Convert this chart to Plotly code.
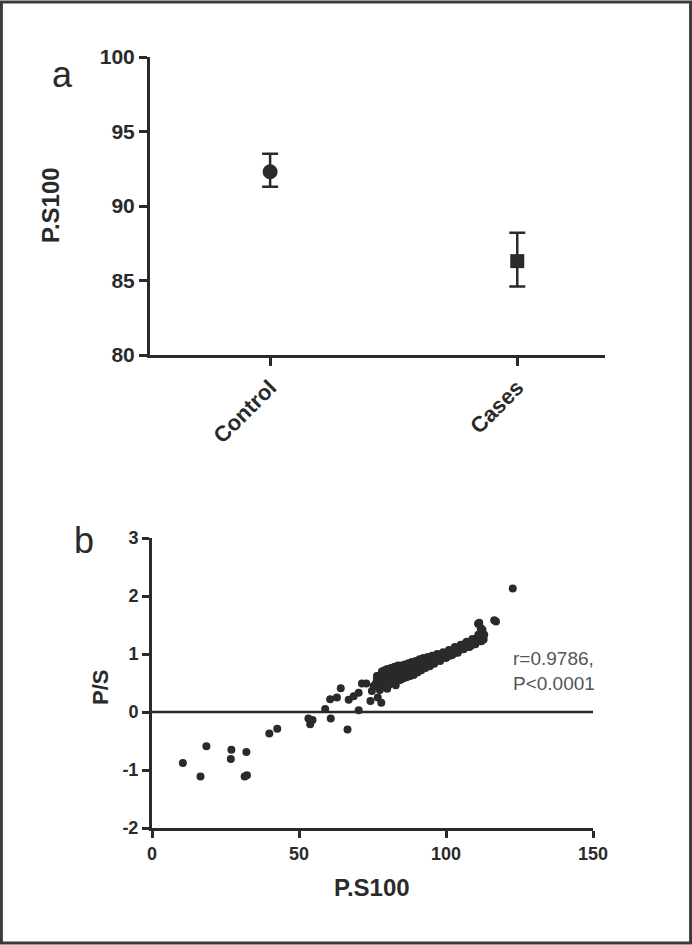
import plotly.graph_objects as go

# ---- Panel a data ----
groups = ["Control", "Cases"]
group_pos = [0, 1]
means = [92.3, 86.3]
err_plus = [1.2, 1.9]
err_minus = [1.0, 1.7]

# ---- Panel b data ----
ps100 = [10.5, 16.5, 18.5, 27.0, 26.8, 32.1, 31.5, 32.3, 39.9, 42.6,
         53.2, 53.8, 54.6, 58.9, 60.8, 60.6, 62.9, 64.2, 66.5, 66.9,
         68.6, 70.3, 70.3, 71.4, 72.9, 74.3, 74.8, 76.5, 76.8, 78.0, 75.4,
         79.4, 82.9, 80.0, 89.1, 92.5, 83.9, 87.9, 91.9,
         76.2, 76.5, 76.8, 77.0, 77.3, 77.6, 77.9, 78.1, 78.4, 78.7,
         79.0, 79.3, 79.6, 79.9, 80.2, 80.5, 80.8, 81.1, 81.4, 81.7,
         82.0, 82.3, 82.6, 82.9, 83.2, 83.5, 83.8, 84.1, 84.4, 84.7,
         85.0, 85.3, 85.6, 85.9, 86.2, 86.5, 86.8, 87.1, 87.4, 87.7,
         88.0, 88.3, 88.6, 88.9, 89.2, 89.5, 89.8, 90.1, 90.4, 90.7,
         91.0, 91.3, 91.6, 91.9, 92.2, 92.5, 92.8, 93.1, 93.4, 93.7,
         94.0, 94.3, 94.6, 94.9, 95.2, 95.5, 95.8, 96.1, 96.4, 96.7,
         97.0, 97.3, 97.6, 97.9, 98.2, 98.5, 98.8, 99.1, 99.4, 99.7,
         100.0, 100.3, 100.6, 100.9, 101.2, 101.5, 101.8, 102.1, 102.4, 102.7,
         103.0, 103.3, 103.6, 103.9, 104.2, 104.5, 104.8, 105.1, 105.4, 105.7,
         106.0, 106.3, 106.6, 106.9, 107.2, 107.5, 107.8, 108.1, 108.4, 108.7,
         109.0, 109.3, 109.6, 110.0, 110.4, 110.8, 111.2, 111.6, 112.0, 112.4,
         112.8, 113.0,
         77.5, 78.2, 79.1, 80.0, 80.6, 81.3, 81.9, 82.5, 83.0, 83.7,
         84.3, 84.9, 85.5, 86.0, 86.6, 87.2, 87.8, 88.4, 89.0, 89.7,
         90.3, 91.0, 91.6, 92.3, 93.0, 93.8, 94.5, 95.3, 96.0, 97.0,
         98.0, 99.0, 100.0, 101.0, 102.0, 103.0, 104.0, 105.0, 106.0, 107.0,
         108.0, 109.0, 110.0, 111.0, 112.0,
         111.8, 110.9, 111.8, 111.3, 116.4, 117.0, 112.4, 122.7]
ps_ratio = [-0.88, -1.11, -0.59, -0.65, -0.81, -0.69, -1.11, -1.09, -0.37, -0.29,
            -0.11, -0.21, -0.14, 0.05, -0.11, 0.22, 0.25, 0.41, -0.30, 0.21,
            0.27, 0.33, 0.03, 0.49, 0.49, 0.19, 0.36, 0.62, 0.25, 0.16, 0.45,
            0.47, 0.46, 0.40, 0.67, 0.78, 0.76, 0.79, 0.90,
            0.50, 0.58, 0.44, 0.62, 0.52, 0.47, 0.56, 0.64, 0.50, 0.58,
            0.45, 0.61, 0.55, 0.66, 0.52, 0.60, 0.57, 0.68, 0.55, 0.63,
            0.60, 0.70, 0.58, 0.66, 0.62, 0.73, 0.60, 0.68, 0.65, 0.56,
            0.70, 0.66, 0.74, 0.69, 0.63, 0.72, 0.70, 0.77, 0.71, 0.66,
            0.75, 0.73, 0.79, 0.74, 0.70, 0.78, 0.76, 0.82, 0.77, 0.73,
            0.81, 0.79, 0.84, 0.80, 0.77, 0.85, 0.83, 0.87, 0.84, 0.80,
            0.88, 0.86, 0.90, 0.87, 0.84, 0.91, 0.89, 0.93, 0.90, 0.88,
            0.94, 0.92, 0.96, 0.93, 0.91, 0.97, 0.95, 0.99, 0.97, 0.94,
            1.00, 0.98, 1.02, 1.00, 0.97, 1.04, 1.02, 1.06, 1.04, 1.01,
            1.08, 1.06, 1.10, 1.08, 1.05, 1.12, 1.10, 1.14, 1.12, 1.09,
            1.16, 1.14, 1.18, 1.15, 1.12, 1.19, 1.17, 1.21, 1.18, 1.15,
            1.22, 1.20, 1.24, 1.21, 1.27, 1.23, 1.30, 1.26, 1.32, 1.28,
            1.25, 1.33,
            0.38, 0.70, 0.72, 0.74, 0.47, 0.76, 0.50, 0.78, 0.53, 0.80,
            0.55, 0.80, 0.58, 0.82, 0.60, 0.84, 0.62, 0.86, 0.64, 0.88,
            0.68, 0.91, 0.72, 0.93, 0.76, 0.95, 0.79, 0.97, 0.83, 1.00,
            0.88, 1.03, 0.93, 1.07, 0.98, 1.12, 1.02, 1.16, 1.08, 1.21,
            1.12, 1.26, 1.17, 1.33, 1.22,
            1.45, 1.52, 1.36, 1.54, 1.58, 1.56, 1.42, 2.13]

b_yticks = [-2, -1, 0, 1, 2, 3]
b_yticklabels = ["-2", "-1", "0", "1", "2", "3"]

stat_text = "r=0.9786,<br>P<0.0001"

W, H = 692, 945
FONT = "Liberation Sans, Arial, Helvetica, sans-serif"
DARK = "#2a2a2a"


def px(x):
    return x / W


def py(y):
    return 1 - y / H


fig = go.Figure()

# Panel a: means with error bars
fig.add_trace(go.Scatter(
    x=[group_pos[0]], y=[means[0]], mode="markers",
    marker=dict(symbol="circle", size=15, color=DARK),
    error_y=dict(type="data", symmetric=False, array=[err_plus[0]], arrayminus=[err_minus[0]],
                 color=DARK, thickness=2.5, width=8),
    xaxis="x", yaxis="y", showlegend=False))
fig.add_trace(go.Scatter(
    x=[group_pos[1]], y=[means[1]], mode="markers",
    marker=dict(symbol="square", size=14, color=DARK),
    error_y=dict(type="data", symmetric=False, array=[err_plus[1]], arrayminus=[err_minus[1]],
                 color=DARK, thickness=2.5, width=8),
    xaxis="x", yaxis="y", showlegend=False))

# Panel b: scatter
fig.add_trace(go.Scatter(
    x=ps100, y=ps_ratio, mode="markers",
    marker=dict(symbol="circle", size=8, color=DARK),
    xaxis="x2", yaxis="y2", showlegend=False))

axis_common = dict(showgrid=False, zeroline=False, showline=True, linecolor=DARK,
                   linewidth=3, ticks="outside", tickcolor=DARK, tickwidth=2.5,
                   automargin=False)

fig.update_layout(
    template="none",
    width=W, height=H,
    margin=dict(l=0, r=0, t=0, b=0, pad=0, autoexpand=False),
    paper_bgcolor="white", plot_bgcolor="white",
    font=dict(family=FONT, color=DARK),
    xaxis=dict(domain=[px(150), px(605)], range=[-0.486, 1.355],
               tickvals=group_pos, ticktext=groups, tickangle=-45,
               ticklen=8, tickfont=dict(size=22, family=FONT, weight="bold"),
               anchor="y", **axis_common),
    yaxis=dict(domain=[py(355), py(57)], range=[80, 100], dtick=5,
               ticklen=8, tickfont=dict(size=21, family=FONT, weight="bold"),
               anchor="x", **axis_common),
    xaxis2=dict(domain=[px(152), px(593)], range=[0, 150], dtick=50,
                ticklen=7, tickfont=dict(size=18, family=FONT, weight="bold"),
                anchor="y2", **axis_common),
    yaxis2=dict(domain=[py(828), py(538)], range=[-2, 3],
                tickvals=b_yticks, ticktext=b_yticklabels,
                ticklen=7, tickfont=dict(size=18, family=FONT, weight="bold"),
                anchor="x2", **axis_common),
    shapes=[
        dict(type="line", xref="x2", yref="y2", x0=0, x1=150, y0=0, y1=0,
             line=dict(color=DARK, width=2.5)),
        dict(type="rect", xref="paper", yref="paper", x0=0.002, x1=0.998, y0=0.002, y1=0.998,
             line=dict(color="#3a3a3a", width=3)),
    ],
    annotations=[
        dict(text="a", x=px(62), y=py(75), xref="paper", yref="paper", showarrow=False,
             font=dict(size=36, family=FONT, color=DARK), xanchor="center", yanchor="middle"),
        dict(text="b", x=px(84), y=py(540), xref="paper", yref="paper", showarrow=False,
             font=dict(size=36, family=FONT, color=DARK), xanchor="center", yanchor="middle"),
        dict(text="P.S100", x=px(50), y=py(205), xref="paper", yref="paper", showarrow=False,
             textangle=-90, font=dict(size=24, family=FONT, color=DARK, weight="bold"),
             xanchor="center", yanchor="middle"),
        dict(text="P/S", x=px(100), y=py(688), xref="paper", yref="paper", showarrow=False,
             textangle=-90, font=dict(size=22, family=FONT, color=DARK, weight="bold"),
             xanchor="center", yanchor="middle"),
        dict(text="P.S100", x=px(372), y=py(887), xref="paper", yref="paper", showarrow=False,
             font=dict(size=24, family=FONT, color=DARK, weight="bold"),
             xanchor="center", yanchor="middle"),
        dict(text=stat_text, x=px(511), y=py(671), xref="paper", yref="paper", showarrow=False,
             align="left", font=dict(size=19, family=FONT, color="#555"),
             xanchor="left", yanchor="middle"),
    ],
)

fig.write_html("out.html", config={"displayModeBar": False},
               post_script="document.body.style.margin='0';")
